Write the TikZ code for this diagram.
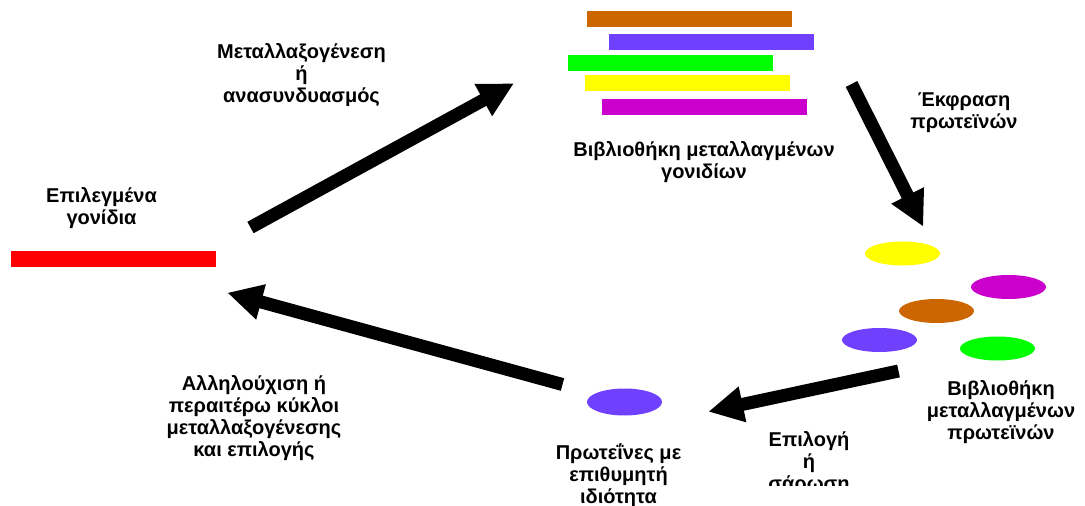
\documentclass[tikz,border=0pt]{standalone}
\usepackage{fontspec}
\setmainfont{Liberation Sans}[BoldFont={Liberation Sans Bold}]
\usetikzlibrary{arrows.meta,shapes.geometric}
\definecolor{cbrown}{HTML}{CC6600}
\definecolor{cviolet}{HTML}{7040FF}
\definecolor{cgreen}{HTML}{00FF00}
\definecolor{cyellow}{HTML}{FFFF00}
\definecolor{cmagenta}{HTML}{CC00CC}
\definecolor{cred}{HTML}{FF0000}
\tikzset{
  gene/.style={rectangle, inner sep=0pt, minimum height=16pt, draw=none},
  protein/.style={ellipse, inner sep=0pt, minimum width=75pt, minimum height=24pt, draw=none},
  % anchored at the baseline of the last line
  caption/.style={align=center, inner sep=0pt, anchor=base,
    font=\bfseries\fontsize{20}{22}\selectfont},
  bigarrow/.style={line width=13pt, -{Triangle[length=35pt,width=34pt]}}
}
\begin{document}
\begin{tikzpicture}[x=1pt,y=-1pt]
\useasboundingbox (0,0) rectangle (1085,506);

% starting gene
\node[gene, fill=cred, minimum width=205pt] (start) at (113.5,259) {};
\node[caption] (startlbl) at (101.5,224.3) {Επιλεγμένα\\γονίδια};

% library of mutated genes
\node[gene, fill=cbrown, minimum width=205pt]   (g1) at (689.5,19) {};
\node[gene, fill=cviolet, minimum width=205pt]  (g2) at (711.5,42) {};
\node[gene, fill=cgreen, minimum width=205pt]   (g3) at (670.5,63) {};
\node[gene, fill=cyellow, minimum width=205pt]  (g4) at (687.5,83) {};
\node[gene, fill=cmagenta, minimum width=205pt] (g5) at (704.5,107) {};
\node[caption] (genelib) at (704,178.7) {Βιβλιοθήκη μεταλλαγμένων\\γονιδίων};

% library of mutated proteins
\node[protein, fill=cyellow]  (p1) at (902.5,253.5) {};
\node[protein, fill=cmagenta] (p2) at (1008.5,287) {};
\node[protein, fill=cbrown]   (p3) at (936.5,311) {};
\node[protein, fill=cviolet]  (p4) at (879.5,340) {};
\node[protein, fill=cgreen]   (p5) at (997.5,348.5) {};
\node[caption] (protlib) at (1001,439) {Βιβλιοθήκη\\μεταλλαγμένων\\πρωτεϊνών};

% selected protein
\node[protein, fill=cviolet, minimum height=27pt] (best) at (624.5,402) {};
\node[caption] (bestlbl) at (618.5,503) {Πρωτεΐνες με\\επιθυμητή\\ιδιότητα};

% step labels
\node[caption] (mutlbl) at (301.5,102.3) {Μεταλλαξογένεση\\ή\\ανασυνδυασμός};
\node[caption] (exprlbl) at (964,128.7) {Έκφραση\\πρωτεϊνών};
\node[caption] (recyclbl) at (254,456) {Αλληλούχιση ή\\περαιτέρω κύκλοι\\μεταλλαξογένεσης\\και επιλογής};
\begin{scope}
  \clip (740,420) rectangle (880,485.5);
  \node[caption] (sellbl) at (809,490.7) {Επιλογή\\ή\\σάρωση};
\end{scope}

% cycle arrows
\coordinate (a1s) at (250.5,227.5);
\coordinate (a1e) at (514,83.3);
\coordinate (a2s) at (851.5,84);
\coordinate (a2e) at (923.3,226.7);
\coordinate (a3s) at (898.5,371);
\coordinate (a3e) at (708.3,411.7);
\coordinate (a4s) at (562.5,384.5);
\coordinate (a4e) at (227.3,292.7);
\draw[bigarrow] (a1s) -- (a1e);
\draw[bigarrow] (a2s) -- (a2e);
\draw[bigarrow] (a3s) -- (a3e);
\draw[bigarrow] (a4s) -- (a4e);
\end{tikzpicture}
\end{document}
